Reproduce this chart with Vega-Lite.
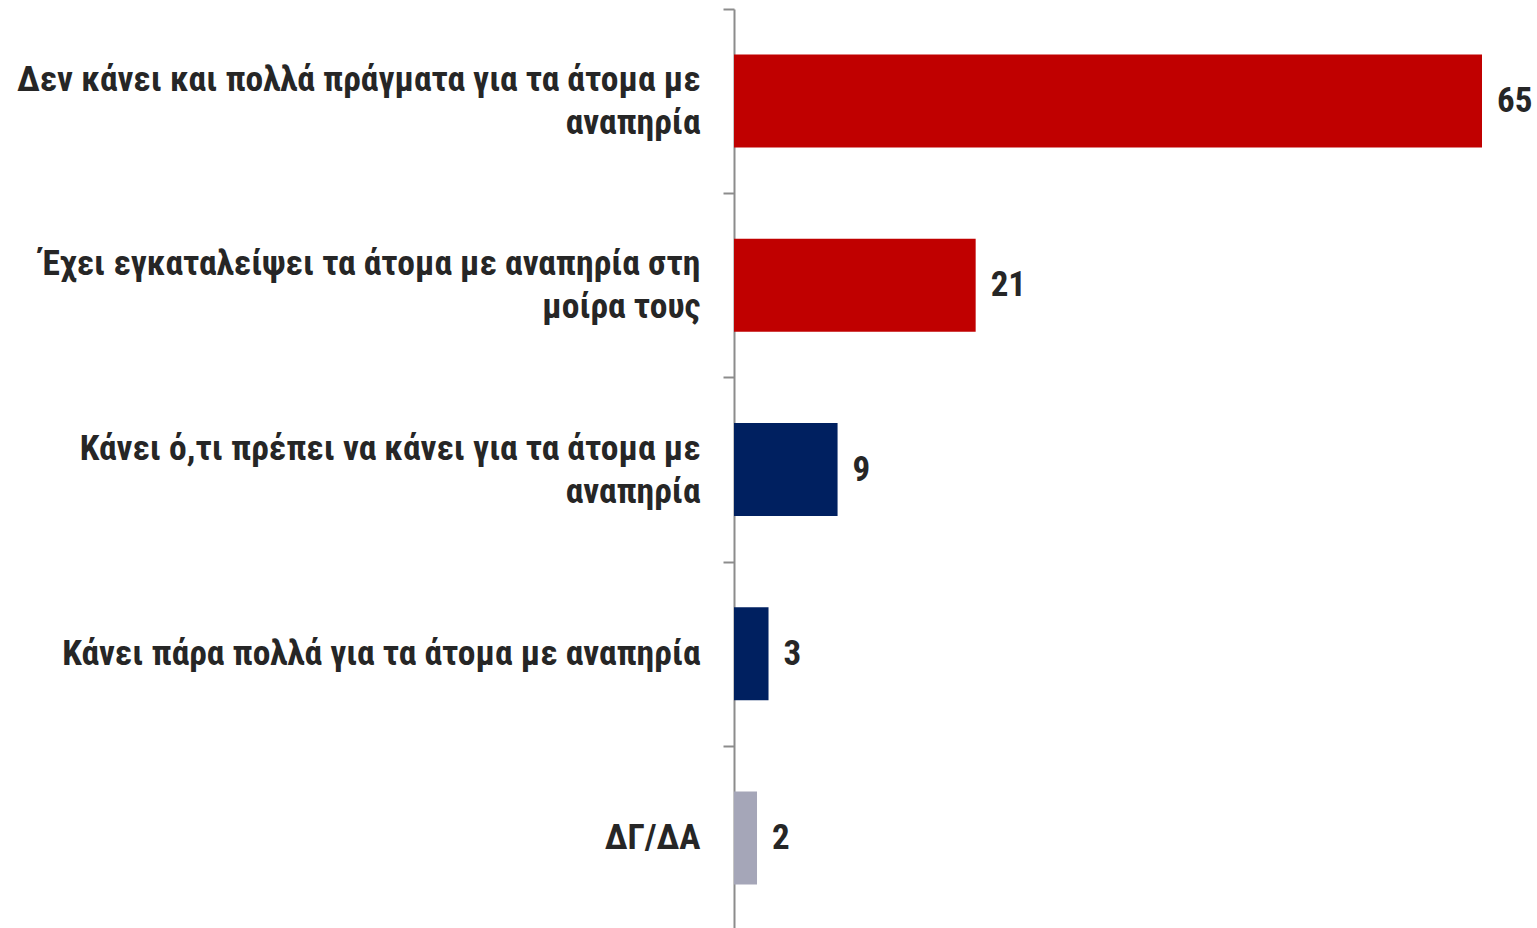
{
  "$schema": "https://vega.github.io/schema/vega-lite/v6.json",
  "autosize": "none",
  "width": 748,
  "height": 921,
  "padding": {"left": 734, "top": 9, "right": 55, "bottom": 0},
  "background": "white",
  "config": {"view": {"stroke": null}},
  "data": {
    "values": [
      {"answer": "Δεν κάνει και πολλά πράγματα για τα άτομα με\nαναπηρία", "pct": 65, "group": "neg"},
      {"answer": "Έχει εγκαταλείψει τα άτομα με αναπηρία στη\nμοίρα τους", "pct": 21, "group": "neg"},
      {"answer": "Κάνει ό,τι πρέπει να κάνει για τα άτομα με\nαναπηρία", "pct": 9, "group": "pos"},
      {"answer": "Κάνει πάρα πολλά για τα άτομα με αναπηρία", "pct": 3, "group": "pos"},
      {"answer": "ΔΓ/ΔΑ", "pct": 2, "group": "dk"}
    ]
  },
  "encoding": {
    "y": {
      "field": "answer",
      "type": "nominal",
      "sort": null,
      "scale": {"paddingInner": 0, "paddingOuter": 0},
      "axis": {
        "title": null,
        "domainColor": "#8C8C8C",
        "domainWidth": 2,
        "tickColor": "#8C8C8C",
        "tickWidth": 2,
        "tickSize": 11,
        "tickBand": "extent",
        "labelExpr": "length(split(datum.label, '\\n')) > 1 ? [split(datum.label, '\\n')[0], '\u2800', split(datum.label, '\\n')[1]] : ['', datum.label]",
        "labelFont": "Roboto Condensed",
        "labelFontWeight": "bold",
        "labelFontSize": 35.5,
        "labelLineHeight": 21.5,
        "labelOffset": -21.5,
        "labelColor": "#262626",
        "labelPadding": 23,
        "labelLimit": 900,
        "labelAlign": "right",
        "labelBaseline": "middle"
      }
    },
    "x": {
      "field": "pct",
      "type": "quantitative",
      "scale": {"domain": [0, 65], "nice": false},
      "axis": null
    }
  },
  "layer": [
    {
      "mark": {"type": "bar", "height": {"band": 0.505}},
      "encoding": {
        "color": {
          "field": "group",
          "type": "nominal",
          "scale": {"domain": ["neg", "pos", "dk"], "range": ["#C00000", "#002060", "#A5A6B8"]},
          "legend": null
        }
      }
    },
    {
      "mark": {
        "type": "text",
        "align": "left",
        "baseline": "middle",
        "dx": 15,
        "font": "Roboto Condensed",
        "fontWeight": "bold",
        "fontSize": 35,
        "color": "#262626"
      },
      "encoding": {"text": {"field": "pct", "type": "quantitative"}}
    }
  ]
}
